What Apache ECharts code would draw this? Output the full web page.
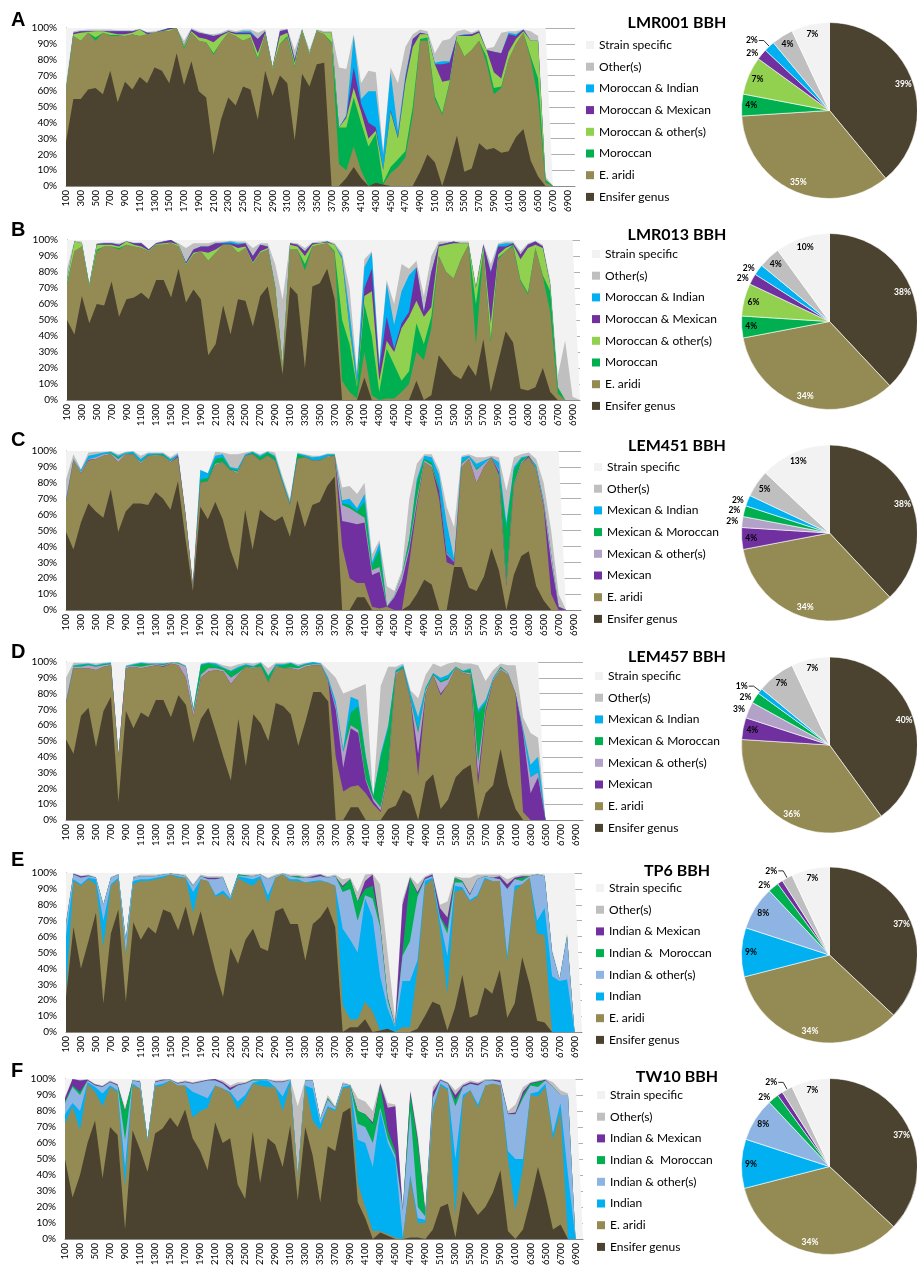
<!DOCTYPE html>
<html><head><meta charset="utf-8">
<script src="https://cdn.jsdelivr.net/npm/echarts@6/dist/echarts.min.js"></script>
<style>html,body{margin:0;padding:0;background:#fff}#c{width:917px;height:1272px}</style>
</head><body><div id="c"></div>
<script>
// ---- categories (gene window positions) ----
const categories = ['100','200','300','400','500','600','700','800','900','1000','1100','1200','1300','1400','1500','1600','1700','1800','1900','2000','2100','2200','2300','2400','2500','2600','2700','2800','2900','3000','3100','3200','3300','3400','3500','3600','3700','3800','3900','4000','4100','4200','4300','4400','4500','4600','4700','4800','4900','5000','5100','5200','5300','5400','5500','5600','5700','5800','5900','6000','6100','6200','6300','6400','6500','6600','6700','6800','6900','7000'];

// ---- series names ----
const namesMor = ['Ensifer genus','E. aridi','Moroccan','Moroccan & other(s)','Moroccan & Mexican','Moroccan & Indian','Other(s)','Strain specific'];
const namesMex = ['Ensifer genus','E. aridi','Mexican','Mexican & other(s)','Mexican & Moroccan','Mexican & Indian','Other(s)','Strain specific'];
const namesInd = ['Ensifer genus','E. aridi','Indian','Indian & other(s)','Indian &  Moroccan','Indian & Mexican','Other(s)','Strain specific'];

// ---- pie values (%) in the order of the names ----
const pieA = [39,35,4,7,2,2,4,7];
const pieB = [38,34,4,6,2,2,4,10];
const pieC = [38,34,4,2,2,2,5,13];
const pieD = [40,36,4,3,2,1,7,7];
const pieE = [37,34,9,8,2,1,2,7];
const pieF = [37,34,9,8,2,1,2,7];

// ---- stacked area: top edge (cumulative %) of each layer ----
// Panel A  (LMR001)
const A_ens = [28,55,55,61,62,58,73,53,66,61, 69,65,75,73,65,84,64,79,60,56, 20,42,56,51,63,61,42,73,57,70, 65,29,71,63,77,78,0,0,5,12, 5,0,2,1,0,0,0,0,9,20, 15,0,15,32,9,11,27,23,24,21, 22,31,36,16,6,0,0,0,0,0];
const A_ari = [60,95,92,97,92,97,95,95,95,96, 95,96,97,98,98,100,87,97,92,91, 83,91,97,95,92,94,80,96,74,90, 94,75,98,83,98,96,90,14,10,25, 10,0,2,1,8,12,18,45,92,92, 55,45,65,92,82,86,92,78,58,62, 80,90,97,80,55,2,0,0,0,0];
const A_s3 = [60,95,92,97,94,97,95.5,95.5,95,96, 95,96,97,98,98,100,88,97,92,91, 84,91,97,95,92,94,81,96,74,90, 95,76,98,83,98,96,91,37,37,56, 40,25,33,2,12,17,22,50,93,94, 57,46,66,92,82,86,92,82,62,63, 80,90,97,82,68,4,0,0,0,0];
const A_s4 = [61,96,97,97.5,98,98,97,96,96,97, 99,96,97,98,99,100,89,98,94,93, 91,95,97.5,96,96,96,84,97,75,95, 97,78,99,84,98.5,97,97,37,43,62, 47,30,35,10,47,30,65,88,96,96, 77,66,67,95,95,95,97,86,72,68, 85,93,98,92,92,4,0,0,0,0];
const A_s5 = [61,97,98,98,98,98,98,98,98,98, 99,97,97,98.5,100,100,89,99,97,96, 95,96,98,97,97,97,93,98,75,98, 99,80,99,84,98.5,97,97,37,44,75, 52,40,37,10,48,31,68,93,97,96, 77,77,78,95,95.5,96,98,86,85,84, 96,95,99,92,92,4,0,0,0,0];
const A_s6 = [61,97,98,98,98,98,98,98,98,98, 99,97,97,98.5,100,100,89,99,97,96, 95,96,98,97,98,98,93,98,75,98, 99,80,99,84,98.5,97,97,37,45,95, 55,60,60,20,72,35,70,93,97,96, 78,79,79,95,96,96,98,86,85,84, 97,96,99,92,92,4,0,0,0,0];
const A_oth = [65,98,98.5,99,99,99,99,98.5,98.5,98.5, 99.5,97.5,98,99,100,100,92,100,98,96.5, 96,97,99,98,99,99,97,99,76,99, 99.5,86,99.5,86,99,98,98,75,74,96, 65,73,72,22,75,65,88,96,99,98, 84,92,93,98,99,97,99,87,88,97, 98,98,99,98,95,6,0,0,0,0];
const A_ss  = [100,100,100,100,100,100,100,100,100,100, 100,100,100,100,100,100,100,100,100,100, 100,100,100,100,100,100,100,100,100,100, 100,100,100,100,100,100,100,100,100,100, 100,100,100,100,100,100,100,100,100,100, 100,100,100,100,100,100,100,100,100,100, 100,100,100,100,100,100,0,0,0,0];

// Panel B  (LMR013)
const B_ens = [50,41,65,48,60,59,74,52,63,64, 67,63,75,75,64,82,61,69,63,28, 35,59,41,63,62,46,65,71,47,16, 71,66,20,71,73,82,63,0,0,0, 14,0,0,0,0,0,0,12,0,3, 28,22,16,13,22,15,38,5,24,43, 36,7,6,8,20,5,0,0,0,0];
const B_ari = [72,93,96,71,93,96,96,94,97,96, 95,93,97,97,98,96,84,91,93,87, 92,97,97,92,95,85,92,94,70,20, 94,94,81,96,97,98,92,12,5,1, 30,3,0,1,1,5,10,30,25,45, 90,80,76,88,97,35,92,36,88,93, 96,74,66,95,77,55,4,0,0,0];
const B_s3 = [73,93,96,71,94,96,96,95,97,96, 95,93,97,97,98,96,84,91,93,87, 92,97,97,92,95,85,92,94,70,20, 94,94,85,96,97,98,93,50,35,8, 60,40,5,32,22,12,18,48,35,52, 90,80,76,88,97,60,93,38,89,93, 97,75,67,95,78,68,8,0,0,0];
const B_s4 = [75,99,98,72,97,97,97,96,99,97, 96,93.5,97.5,98,98.5,97,85,92,93,92, 94,97,97,95,96,86,93,95,71,22, 97,96,90,97,98,98.5,97,88,45,10, 65,68,12,37,30,45,52,62,52,58, 96,97,98,98,98,70,96,48,91,95, 97,88,95,97,95,72,8,0,0,0];
const B_s5 = [75,99,98,72,97.5,98,98,97,99,98, 98,94,98,99,100,97,86,94,96,96, 98,98,98,97,98,90,97,96,71,22, 98,97,93,98,98,99,97,88,45,10, 70,82,20,52,32,48,55,83,55,80, 97,98,99,98,98,70,97,80,96,96, 98,91,97,99,96,72,8,0,0,0];
const B_s6 = [75,99,98,72,97.5,98,98,97,99,98, 98,94,98,99,100,97,86,94,96,96, 98,98.5,99,98,98,90,97,96,71,22, 98,97,93,98,98,99,97,90,55,15, 83,92,22,73,47,68,78,83,55,80, 97,98,99,98,98,70,97,80,97,98, 98,91,97,99,96,72,8,0,0,0];
const B_oth = [82,99.5,99,72.5,98,98.5,98.5,98,99.5,98.5, 98.5,94.5,98.5,99.5,100,98,95,98,98,98, 99,99,99.5,99,99,95,98,98,85,63, 98.5,98,95,98.5,99,99.5,98,92,70,18, 88,93,25,75,60,85,82,87,65,90, 99,99,99,99,99,72,98,85,98,99, 99,93,98,99.5,97,75,15,37,2,0];
const B_ss  = [100,100,100,100,100,100,100,100,100,100, 100,100,100,100,100,100,100,100,100,100, 100,100,100,100,100,100,100,100,100,100, 100,100,100,100,100,100,100,100,100,100, 100,100,100,100,100,100,100,100,100,100, 100,100,100,100,100,100,100,100,100,100, 100,100,100,100,100,100,100,100,100,0];

// Panel C  (LEM451)
const C_ens = [49,38,55,67,62,58,76,49,62,67, 67,66,74,70,63,81,45,12,65,57, 68,57,38,25,63,38,63,59,56,59, 46,69,52,66,68,78,84,0,0,8, 8,0,0,0,0,0,3,10,19,16, 0,0,27,27,14,12,21,39,25,0, 22,34,37,15,6,0,0,0,0,0];
const C_ari = [68,94,86,94,95,97,98,93,98,98, 92,97,97,97,93,96,60,15,80,81, 91,93,88,86,97,98,94,97,94,80, 66,95,96,94,94,96,97,40,20,17, 17,2,1,2,0,0,30,65,93,90, 70,30,28,90,95,80,90,96,85,15, 78,92,96,88,65,10,0,0,0,0];
const C_s3 = [68,94,86,94.5,95,97,98,93,98,98, 92,97,97,97,93,97,60,15,80,81, 91,93,88,86,97,98,94,97,94,80, 66,95,96,94,94,96,97,56,55,54, 55,22,24,2,8,18,38,67,93,90, 75,35,30,90,95,80,90,96,87,16, 78,92,97,88,66,30,2,0,0,0];
const C_s4 = [69,95,87,95,96,98,98.5,95,98.5,98, 93,97,97.5,97,93.5,97,60,15,80,81, 92,93,88,87,97,98,94,97,94,80, 66,95,96,94,94,96.5,97,66,64,61, 58,25,27,2,9,22,40,70,94,91, 75,36,30,92,96,88,92,96,88,17, 79,93,97,89,68,35,2,0,0,0];
const C_s5 = [69,95,87,95,96,98,99,96,98.5,98.5, 93.5,97.5,98,98,94,97,60,15,82,83, 95,96,89,88,97,99,96,99,96,81, 67,98,96.5,94.5,94.5,97,97.5,67,66,62, 68,28,38,2,9,22,45,80,95,93, 77,37,30,93,96,89,92,96,88,52, 88,95,97,90,68,35,2,0,0,0];
const C_s6 = [70,95,88,97,98,99,99.5,97,99,99.5, 95,98.5,98.5,98.5,95,98,61,16,88,86, 97,98,90,89,98,99.5,97,99.5,97,82, 68,98.5,97.5,96,96.5,98,98,69,70,64, 73,30,42,2,9,22,45,82,97,96, 85,55,32,96,97,92,94,96,93,55, 90,96,97,91,69,35,2,0,0,0];
const C_oth = [82,98,88.5,99,99.5,99.5,100,98,99.5,100, 97,99,99,99,96,99,62,17,88,86, 99.5,99,98,98,99,100,98,100,99,84, 70,99,98,97,97,98.5,98.5,77,78,73, 80,35,44,15,12,25,70,92,98,98, 88,65,52,97,98,96,96,97,96,75, 96,98,99,95,80,50,10,0,0,0];
const C_ss  = [100,100,100,100,100,100,100,100,100,100, 100,100,100,100,100,100,100,100,100,100, 100,100,100,100,100,100,100,100,100,100, 100,100,100,100,100,100,100,100,100,100, 100,100,100,100,100,100,100,100,100,100, 100,100,100,100,100,100,100,100,100,100, 100,100,100,100,100,100,100,0,0,0];

// Panel D  (LEM457)
const D_ens = [51,42,66,71,46,69,78,11,69,58, 68,65,76,76,65,79,73,49,64,71, 56,40,25,64,34,67,61,50,74,72, 67,47,63,81,81,75,0,0,8,8, 0,0,0,7,9,19,16,0,24,29, 7,13,27,32,35,0,17,22,45,22, 7,0,0,0,0,0,0,0,0,0];
const D_ari = [74,96,96,96,95,97,98,40,96,97, 96,97,98,97,99,98,90,66,90,94, 95,94,86,92,97,96,97,87,97,96, 96,95,97,98,98,88,40,18,21,22, 17,10,5,30,92,96,75,28,80,92, 79,86,96,93,92,22,68,88,95,92, 80,5,0,0,0,0,0,0,0,0];
const D_s3 = [74,96,96,96,95,97,98,40,96,97, 96,97,98,97.5,99,98,90,66,90,94, 95,94,86,92,97,96,97,87,97,96, 96,95,97,98,98,88,70,33,58,55, 25,12,6,30,92,96,75,42,80,92, 80,86,96,93,92,28,70,88,95,92, 80,55,17,27,0,0,0,0,0,0];
const D_s4 = [75,97,97,98,97,98,98.5,41,97,97.5, 97,98,98.5,98,99.5,99,97,69,92,96, 96,95,90,93,97,96.5,97,87,97.5,96, 96.5,96,98,98.5,98.5,88,72,43,60,57, 26,14,8,32,93,96,76,55,82,92, 87,89,96.5,93.5,93,36,72,89,96,93, 80,56,27,30,0,0,0,0,0,0];
const D_s5 = [75,97.5,98,98.5,97.5,98.5,99,41,97,98, 99,98.5,98.5,98.5,99.5,99.5,97,70,98,99, 98,96,94,96,98,97,99,91,98,98, 99,97,98.5,99,98.5,88,72,43,68,72, 40,15,40,58,94,97,77,57,83,92.5, 88,90,97,94,95,68,74,89,97,93, 80,56,27,30,0,0,0,0,0,0];
const D_s6 = [75,98,98.5,99,98,99,99.5,41,97.5,98.5, 99.5,99,99,99,99.5,99.5,97.5,70.5,98.5,99.5, 99,96.5,94.5,97,98.5,97.5,99.5,91.5,98.5,98.5, 99.5,97.5,99,100,99,90,75,45,78,76, 41,15,42,60,95,98,80,65,84,93, 90,92,97,94.5,96,70,76,90,97,93, 80,58,35,40,0,0,0,0,0,0];
const D_oth = [90,99.5,99.5,99.5,99,99.5,100,42,98,99, 100,99.5,99.5,99.5,100,100,98,71,99,100, 99.5,98,97,98.5,99.5,99,100,96,99.5,99.5, 100,98.5,99.5,100,99.5,95,90,80,82,84, 86,14,85,97,97,99,82,77,92,99, 97,99,100,99,99,98,88,95,99,98, 98,65,55,52,0,0,0,0,0,0];
const D_ss  = [100,100,100,100,100,100,100,100,100,100, 100,100,100,100,100,100,100,100,100,100, 100,100,100,100,100,100,100,100,100,100, 100,100,100,100,100,100,100,100,100,100, 100,100,100,100,100,100,100,100,100,100, 100,100,100,100,100,100,100,100,100,100, 100,100,100,100,0,0,0,0,0,0];

// Panel E  (TP6)
const E_ens = [22,66,40,57,75,18,62,77,19,69, 58,66,62,77,75,64,79,60,76,57, 38,22,53,43,58,65,53,51,76,78, 68,68,45,68,72,79,66,0,3,3, 8,0,1,2,0,0,0,2,10,19, 17,1,15,36,9,11,28,24,39,9, 18,47,30,7,6,0,0,0,0,0];
const E_ari = [26,95,92,96,93,54,92,96,49,93, 95,95,96,97,99,97,97,75,96,95, 85,87,83,97,94,92,97,81,97,99, 95,95,94,94,95,94,92,17,8,8, 19,13,1,2,0,3,3,40,92,96, 65,24,88,90,82,85,96,95,95,45, 89,93,97,62,61,0,0,0,0,0];
const E_s3 = [60,96,93,97,96,70,93,97,50,95, 96,96,97,98,99,98,97,88,96,95, 86,89,84,98,97,96,98,86,97,99, 96,96,94,95,95.5,94,92,65,58,50, 84,72,35,15,3,32,32,45,95,97, 70,48,92,91,83,86,97,95,95,48, 92,93,97,70,78,35,32,33,0,0];
const E_s4 = [68,99,97,98,97,80,97,99,58,97, 98,98,98,99,99.5,99,98,92,98,96, 96,97,85,98.5,98,98,99,96,98,99.5, 98,97,97,97,98,97,98,88,90,70, 86,84,66,20,4,48,57,85,96,98, 72,62,94,94,86,96,98,97,96,90, 96,95,98,99,98,50,33,60,0,0];
const E_s5 = [68,99,97,98,97,80,97,99,58,97, 98,98,98,99,99.5,99,98,92,98,96, 96,97,85,99,98.5,98,99,96,98,99.5, 98,98,97,97,98,97,98,91,96,82, 90,92,68,22,4,50,97,87,96,98, 73,65,97,95,86,96,98,97,96,90, 96,97,98,99,98,50,33,60,0,0];
const E_s6 = [68,99.5,98,98.5,97,80,97,99,58,97, 98,98,98,99,99.5,99,98,92,98,97, 97,97,85,99,98.5,98,99,96,98,99.5, 98,98,97,98,99,97,98,92,96,82, 95,99,68,22,4,80,97,88,97,99, 78,72,97,95,87,96,98,97,98,93, 97,98,98,99,98,50,33,60,0,0];
const E_oth = [70,100,98.5,99,97.5,80.5,97.5,99.5,58.5,98, 99,99,99,99.5,100,99.5,99,93,99,98, 98,98,86,99.5,99,99,99.5,97,99,100, 99,99,98,99,99.5,98,99,96,97,88, 99,99.5,93,50,8,83,98,93,98,100, 80,82,98,97,97,99,99,99,99,96, 98,99,99,99.5,99,52,34,62,0,0];
const E_ss  = [100,100,100,100,100,100,100,100,100,100, 100,100,100,100,100,100,100,100,100,100, 100,100,100,100,100,100,100,100,100,100, 100,100,100,100,100,100,100,100,100,100, 100,100,100,100,100,100,100,100,100,100, 100,100,100,100,100,100,100,100,100,100, 100,100,100,100,100,100,100,100,100,0];

// Panel F  (TW10)
const F_ens = [50,26,40,60,74,38,70,65,6,68, 56,42,66,69,76,70,81,63,55,43, 73,60,63,34,25,67,35,63,59,45, 71,24,70,52,23,58,55,79,82,23, 13,0,4,2,0,0,1,1,0,6, 20,22,1,30,22,15,20,29,43,5, 0,6,24,45,27,6,9,0,0,0];
const F_ari = [72,83,68,97,92,83,95,92,33,96, 94,61,95,96,99,96,96,76,80,82, 96,94,91,81,87,97,96,95,95,80, 97,38,96,74,68,82,80,94,95,35, 20,5,5,3,1,0,38,10,10,80, 96,93,15,88,93,82,96,97,96,50, 18,45,90,89,95,62,80,0,0,0];
const F_s3 = [78,85,80,98,95,91,96,93,45,97, 94,61.5,96,97,99,96,96,92,90,88, 96,94,92,86,90,97.5,99,99,95,89, 99,38,96,94,72,83,81,95,96,62, 60,45,80,60,50,1,40,13,12,82, 97,94,50,90,93,84,96,97,96,55, 50,50,91,92,97,66,85,40,0,0];
const F_s4 = [85,95,90,99,96,95,98,96,62,99, 98,62,98,99,99.5,97,98,97,98,99, 99,97,93,96,97,99,99,99.5,98,98, 99.5,39,99,99,75,87,82,97,96,72, 70,60,82,63,52,18,80,20,14,88, 99,97,83,95,97,96,99,99,98,78, 78,88,96,95,99,95,90,90,0,0];
const F_s5 = [86,96,92,99,96,95,98,96,80,99, 98,62,98,99,99.5,97,98,97,98,99, 99,97,93,96,97,99.5,99.5,99.5,98,98, 99.5,39,99,99,75,88,82,97,96,80, 78,72,96,68,55,18,90,60,16,88, 99,97,87,95,97,96,99,99,98,78, 78,90,97,98,99,95,90,90,0,0];
const F_s6 = [88,100,99,99.5,96.5,95.5,98.5,96.5,80,99, 98.5,62,98.5,99.5,99.5,97.5,98.5,97.5,98.5,99.5, 100,98,94.5,96.5,97.5,99.5,99.5,99.5,98.5,98.5, 99.5,39,99,99,75,88,82,97,96,80, 78,73,97,82,83,18,92,62,16,92, 99.5,97.5,90,96,98,97,99,99.5,99,78.5, 79,92,97.5,98.5,99.5,95,90,90,0,0];
const F_oth = [89,100,99.5,100,97,96,99,97,82,99.5, 99,62.5,99,100,100,98,99,98,99,99.5, 100,99,96,98,98,100,100,100,99,99, 100,83,99.5,99.5,76,90,83,98,96.5,88, 86,80,98,85,84,20,93,65,20,95, 100,98,93,97,99,98,100,100,99.5,80, 84,95,98,99,100,98,93,91,0,0];
const F_ss  = [100,100,100,100,100,100,100,100,100,100, 100,100,100,100,100,100,100,100,100,100, 100,100,100,100,100,100,100,100,100,100, 100,100,100,100,100,100,100,100,100,100, 100,100,100,100,100,100,100,100,100,100, 100,100,100,100,100,100,100,100,100,100, 100,100,100,100,100,100,100,100,100,0];

// ---- styling / layout (not data) ----
const colMor = ['#4b4330','#948a54','#00b050','#92d050','#7030a0','#00b0f0','#bfbfbf','#f2f2f2'];
const colMex = ['#4b4330','#948a54','#7030a0','#b3a2c7','#00b050','#00b0f0','#bfbfbf','#f2f2f2'];
const colInd = ['#4b4330','#948a54','#00b0f0','#8eb4e3','#00b050','#7030a0','#bfbfbf','#f2f2f2'];

const panels = [
  {letter:'A', title:'LMR001 BBH', names:namesMor, colors:colMor, tops:[A_ens,A_ari,A_s3,A_s4,A_s5,A_s6,A_oth,A_ss], pie:pieA, outside:{4:false,5:true}, grid:[66,28,509,158], legendPos:[586,38], titleY:23, letterY:20, pieY:110.5},
  {letter:'B', title:'LMR013 BBH', names:namesMor, colors:colMor, tops:[B_ens,B_ari,B_s3,B_s4,B_s5,B_s6,B_oth,B_ss], pie:pieB, outside:{4:false,5:false}, grid:[67,240,513,160], legendPos:[592,247], titleY:235, letterY:230, pieY:321.5},
  {letter:'C', title:'LEM451 BBH', names:namesMex, colors:colMex, tops:[C_ens,C_ari,C_s3,C_s4,C_s5,C_s6,C_oth,C_ss], pie:pieC, outside:{3:false,4:false,5:false}, grid:[66,451,515,159], legendPos:[594,460], titleY:446, letterY:440, pieY:533},
  {letter:'D', title:'LEM457 BBH', names:namesMex, colors:colMex, tops:[D_ens,D_ari,D_s3,D_s4,D_s5,D_s6,D_oth,D_ss], pie:pieD, outside:{3:false,4:false,5:true}, grid:[66,662,517,158], legendPos:[595,669], titleY:657, letterY:652, pieY:745},
  {letter:'E', title:'TP6 BBH', names:namesInd, colors:colInd, tops:[E_ens,E_ari,E_s3,E_s4,E_s5,E_s6,E_oth,E_ss], pie:pieE, outside:{4:false,5:true,6:true}, grid:[66,873,516,159], legendPos:[596,881], titleY:871, letterY:860, pieY:955},
  {letter:'F', title:'TW10 BBH', names:namesInd, colors:colInd, tops:[F_ens,F_ari,F_s3,F_s4,F_s5,F_s6,F_oth,F_ss], pie:pieF, outside:{4:false,5:true,6:true}, grid:[65,1079,518,160], legendPos:[597,1088], titleY:1077, letterY:1071, pieY:1166.5}
];

const FONT = 'Lato';
const grids = [], xAxes = [], yAxes = [], series = [], legends = [], graphics = [];

panels.forEach((p, pi) => {
  grids.push({left:p.grid[0], top:p.grid[1], width:p.grid[2], height:p.grid[3], containLabel:false});
  xAxes.push({type:'category', gridIndex:pi, data:categories, boundaryGap:false,
    axisLine:{show:true, lineStyle:{color:'#8c8c8c', width:1}}, axisTick:{show:false},
    axisLabel:{interval:1, rotate:90, fontSize:9.5, color:'#000', fontFamily:FONT, margin:4},
    splitLine:{show:false}});
  yAxes.push({type:'value', gridIndex:pi, min:0, max:100, interval:10,
    axisLine:{show:true, lineStyle:{color:'#8c8c8c', width:1}}, axisTick:{show:false},
    axisLabel:{formatter:'{value}%', fontSize:10, color:'#000', fontFamily:FONT, margin:9},
    splitLine:{show:true, lineStyle:{color:'#b0b0b0', width:1}}});
  // draw top layer first, lower layers over it
  for (let k = 7; k >= 0; k--) {
    series.push({name:p.names[k], type:'line', xAxisIndex:pi, yAxisIndex:pi, data:p.tops[k],
      symbol:'none', showSymbol:false, smooth:false, silent:true, animation:false,
      color:p.colors[k], itemStyle:{color:p.colors[k]},
      lineStyle:{width:0, color:p.colors[k]},
      areaStyle:{color:p.colors[k], opacity:1}});
  }
  const cx = 829.5, cy = p.pieY;
  series.push({type:'pie', center:[cx, cy], radius:[0, 88], startAngle:90, clockwise:true,
    silent:true, animation:false, avoidLabelOverlap:false,
    label:{show:false}, labelLine:{show:false},
    itemStyle:{borderColor:'#ffffff', borderWidth:0.6},
    data:p.names.map((n,k)=>({name:n, value:p.pie[k], itemStyle:{color:p.colors[k]}}))});
  series.push({type:'pie', center:[cx, cy], radius:[63, 88], startAngle:90, clockwise:true,
    silent:true, animation:false, avoidLabelOverlap:false,
    itemStyle:{color:'rgba(0,0,0,0)'},
    label:{show:true, position:'inside', formatter:'{c}%', fontSize:8.5, fontWeight:'bold', fontFamily:FONT},
    labelLine:{show:false},
    data:p.names.map((n,k)=>{
      const d = {name:n, value:p.pie[k], itemStyle:{color:'rgba(0,0,0,0)'},
        label:{color:k<2?'#ffffff':'#000000'}};
      if (k in p.outside) {
        const line = p.outside[k];
        d.label = {position:'outside', color:'#000000', fontSize:8.5, fontWeight:'bold', distanceToLabelLine:1};
        d.labelLine = {show:line, length:line?8:2, length2:line?5:1, lineStyle:{color:'#000', width:0.8}};
      }
      return d;
    })});
  legends.push({orient:'vertical', left:p.legendPos[0], top:p.legendPos[1], itemWidth:8, itemHeight:8,
    itemGap:7.7, icon:'rect', selectedMode:false, padding:0,
    textStyle:{fontFamily:FONT, fontSize:12, color:'#000', lineHeight:14},
    data:p.names.slice().reverse()});
  graphics.push({type:'text', x:11, y:p.letterY, style:{text:p.letter, font:'bold 20px "Liberation Sans"', fill:'#000', textVerticalAlign:'middle', verticalAlign:'middle'}});
  graphics.push({type:'text', x:677, y:p.titleY, style:{text:p.title, font:'bold 16px Lato', fill:'#000', textAlign:'center', align:'center', textVerticalAlign:'middle', verticalAlign:'middle'}});
});

const chart = echarts.init(document.getElementById('c'), null, {renderer:'canvas'});
chart.setOption({
  animation:false,
  backgroundColor:'#ffffff',
  textStyle:{fontFamily:FONT},
  grid:grids, xAxis:xAxes, yAxis:yAxes, legend:legends, series:series, graphic:graphics
});
</script>
</body></html>
